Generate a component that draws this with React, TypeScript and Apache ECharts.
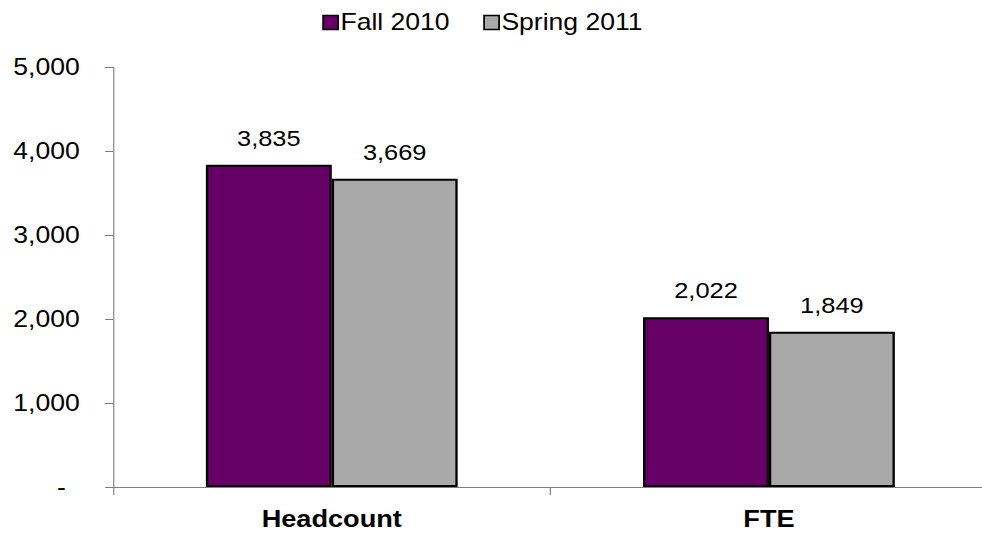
import React, { useEffect, useRef } from "react";
import * as echarts from "echarts";

const categories = ["Headcount", "FTE"];
const fall2010 = [3835, 2022];
const spring2011 = [3669, 1849];
const seriesNames = ["Fall 2010", "Spring 2011"];

const STRETCH = 1.155;
const INNER_W = 855;

const fmt = (v: number) => (v === 0 ? "{d|-}" : v.toLocaleString("en-US"));
const fmtVal = (v: number) => v.toLocaleString("en-US");

export default function App() {
  const ref = useRef<HTMLDivElement>(null);
  useEffect(() => {
    if (!ref.current) return;
    const chart = echarts.init(ref.current, null, { renderer: "svg" });
    const font = "Liberation Sans, Arial, sans-serif";
    chart.setOption({
      animation: false,
      textStyle: { fontFamily: font },
      legend: {
        left: 274,
        top: 6,
        itemWidth: 13,
        itemHeight: 14,
        itemGap: 29,
        icon: "rect",
        itemStyle: { borderColor: "#000", borderWidth: 1.5 },
        textStyle: { fontSize: 23, color: "#000", fontFamily: font, padding: [0, 0, 0, -3] },
        data: seriesNames,
      },
      grid: { left: 98, right: 0, top: 67, bottom: 49, containLabel: false },
      xAxis: {
        type: "category",
        data: categories,
        axisLine: { lineStyle: { color: "#808080", width: 1 } },
        axisTick: { show: true, length: 8, lineStyle: { color: "#808080" } },
        axisLabel: { fontSize: 23.5, fontWeight: "bold", color: "#000", margin: 20, fontFamily: font },
      },
      yAxis: {
        type: "value",
        min: 0,
        max: 5000,
        interval: 1000,
        splitLine: { show: false },
        axisLine: { show: true, lineStyle: { color: "#808080", width: 1 } },
        axisTick: { show: true, length: 7, lineStyle: { color: "#808080" } },
        axisLabel: {
          fontSize: 23,
          color: "#000",
          margin: 29,
          formatter: fmt,
          fontFamily: font,
          rich: { d: { fontSize: 23, color: "#000", fontFamily: font, padding: [0, 12, 0, 0] } },
        },
      },
      series: [
        {
          name: seriesNames[0],
          type: "bar",
          data: fall2010,
          barWidth: 109,
          barGap: "0%",
          itemStyle: { color: "#660066", borderColor: "#000", borderWidth: 2 },
          label: { show: true, position: "top", fontSize: 22, color: "#000", distance: 16, formatter: (p: any) => fmtVal(p.value), fontFamily: font },
        },
        {
          name: seriesNames[1],
          type: "bar",
          data: spring2011,
          barWidth: 109,
          barGap: "0%",
          itemStyle: { color: "#A9A9A9", borderColor: "#000", borderWidth: 2 },
          label: { show: true, position: "top", fontSize: 22, color: "#000", distance: 16, formatter: (p: any) => fmtVal(p.value), fontFamily: font },
        },
      ],
    });
    return () => chart.dispose();
  }, []);
  return (
    <div style={{ position: "absolute", left: 0, top: 0, width: 982, height: 536, overflow: "hidden", background: "#fff" }}>
      <div
        ref={ref}
        style={{ width: INNER_W, height: 536, transform: `scaleX(${STRETCH})`, transformOrigin: "0 0" }}
      />
    </div>
  );
}
